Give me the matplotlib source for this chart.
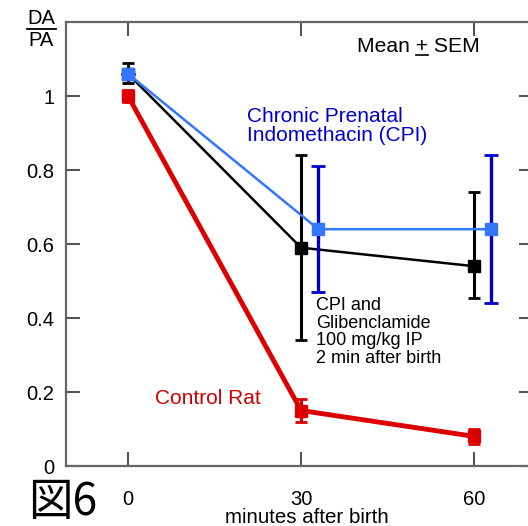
import matplotlib
matplotlib.use("Agg")
import matplotlib.pyplot as plt
from matplotlib.lines import Line2D

plt.rcParams['font.family'] = ['Liberation Sans', 'DejaVu Sans']

# Data
control_x = [0, 30, 60]
control_y = [1.00, 0.15, 0.08]
control_err = [0.015, 0.03, 0.02]

cpi_x = [0, 33, 63]
cpi_y = [1.06, 0.64, 0.64]
cpi_err_lo = [0.0, 0.17, 0.20]
cpi_err_hi = [0.0, 0.17, 0.20]

glib_x = [0, 30, 60]
glib_y = [1.06, 0.59, 0.54]
glib_err_lo = [0.025, 0.25, 0.085]
glib_err_hi = [0.03, 0.25, 0.20]

xticks = [0, 30, 60]
xticklabels = ['0', '30', '60']
yticks = [0, 0.2, 0.4, 0.6, 0.8, 1.0]
yticklabels = ['0', '0.2', '0.4', '0.6', '0.8', '1']

W, H = 528, 526
fig = plt.figure(figsize=(W/100, H/100), dpi=100)
ax = fig.add_axes([66/W, 60/H, (533-66)/W, (466-22)/H])
ax.set_xlim(-10.75, 70.2)
ax.set_ylim(0, 1.2)

# Glibenclamide (black)
ax.errorbar(glib_x, glib_y, yerr=[glib_err_lo, glib_err_hi], color='black',
            lw=1.8, marker='s', ms=8, capsize=4, capthick=2, elinewidth=2.2, zorder=3)
# Control (red)
ax.errorbar(control_x, control_y, yerr=control_err, color='#dd0000',
            lw=3.5, marker='s', ms=9, capsize=4, capthick=2, elinewidth=2.2, zorder=4)
# CPI (blue): dark blue error bars, light blue line/markers
ax.errorbar(cpi_x, cpi_y, yerr=[cpi_err_lo, cpi_err_hi], fmt='none', ecolor='#0000cc',
            elinewidth=2.4, capsize=5, capthick=2, zorder=4)
ax.plot(cpi_x, cpi_y, color='#3377ff', lw=1.8, marker='s', ms=9, zorder=5)

ax.set_xticks(xticks)
ax.set_xticklabels(xticklabels)
ax.set_yticks(yticks)
ax.set_yticklabels(yticklabels)
ax.tick_params(axis='both', direction='in', length=10, width=1.5, color='#555555',
               labelsize=14.5, top=True, right=True)
ax.tick_params(axis='x', pad=17)
ax.tick_params(axis='y', pad=8.5)
for s in ax.spines.values():
    s.set_color('#666666')
    s.set_linewidth(1.6)

# x-axis label placed explicitly so it fits inside the figure
fig.text(307/W, 1-523/H, 'minutes after birth', fontsize=14.8, ha='center', va='baseline')

# Annotations
fig.text(357/W, 1-52/H, 'Mean + SEM', fontsize=15.2, va='baseline', ha='left')
fig.add_artist(Line2D([416/W, 428/W], [1-55/H, 1-55/H], color='black', lw=1.2))
fig.text(247/W, 1-126/H, 'Chronic Prenatal\nIndomethacin (CPI)', fontsize=15, color='#0000cc',
         va='center', ha='left', linespacing=1.0)
fig.text(316/W, 1-332/H, 'CPI and\nGlibenclamide\n100 mg/kg IP\n2 min after birth', fontsize=13,
         color='black', va='center', ha='left', linespacing=1.05)
fig.text(155/W, 1-398/H, 'Control Rat', fontsize=15, color='#cc0000', va='center', ha='left')

# DA / PA fraction
fig.text(41/W, 1-19/H, 'DA', fontsize=14.5, ha='center', va='center')
fig.text(41/W, 1-40/H, 'PA', fontsize=14.5, ha='center', va='center')
fig.add_artist(Line2D([27/W, 56/W], [1-29/H, 1-29/H], color='black', lw=1.3))

# Figure label
fig.text(28/W, 1-502/H, '図6', fontsize=32, family=['Noto Sans CJK JP', 'DejaVu Sans'],
         ha='left', va='center')

fig.savefig('out.png', dpi=100)
